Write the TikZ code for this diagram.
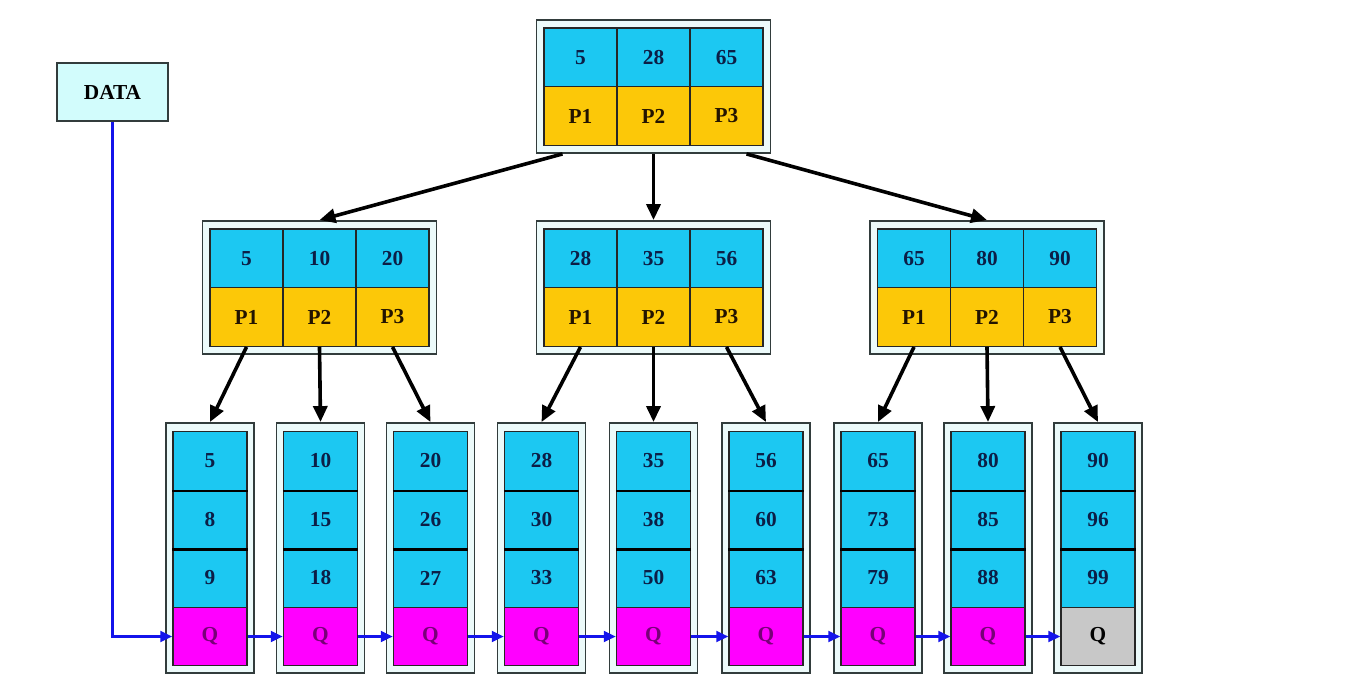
\documentclass[tikz,border=0pt]{standalone}
\usepackage{fontspec}
\setmainfont{Liberation Serif}
\usetikzlibrary{arrows.meta,calc}
\definecolor{cellblue}{RGB}{28,200,242}
\definecolor{cellyellow}{RGB}{252,200,8}
\definecolor{cellmag}{RGB}{255,0,255}
\definecolor{cellgray}{RGB}{200,200,200}
\definecolor{framefill}{RGB}{236,250,250}
\definecolor{framedraw}{RGB}{50,60,60}
\definecolor{numtext}{RGB}{12,30,70}
\definecolor{ptext}{RGB}{35,20,0}
\definecolor{qtext}{RGB}{120,0,120}
\definecolor{datafill}{RGB}{210,252,252}
\definecolor{linkblue}{RGB}{20,20,235}
\newcommand{\treenode}[6]{%
  \node[frame,minimum width=175.5pt,minimum height=99.75pt] (#1) at (#2,#3) {};
  \node[key] (#1-k1) at (#2-73,#3-29) {#4};
  \node[key] (#1-k2) at (#2,#3-29) {#5};
  \node[key] (#1-k3) at (#2+73,#3-29) {#6};
  \node[ptr] (#1-p1) at (#2-73,#3+29.5) {P1};
  \node[ptr] (#1-p2) at (#2,#3+29.5) {P2};
  \node[ptr] (#1-p3) at (#2+73,#3+29.5) {P3};
}
\newcommand{\leafnode}[6]{%
  \node[frame,minimum width=66pt,minimum height=187.5pt] (#1) at (#2,548) {};
  \node[lkey] (#1-a) at (#2,461) {#3};
  \node[lkey] (#1-b) at (#2,519.5) {#4};
  \node[lkey] (#1-c) at (#2,578) {#5};
  \node[#6] (#1-q) at (#2,636.5) {Q};
  \draw[line width=2pt] (#1-a.south west) -- (#1-a.south east);
  \draw[line width=2pt] (#1-b.south west) -- (#1-b.south east);
}
\begin{document}
\begin{tikzpicture}[x=0.75pt,y=-0.75pt,
  frame/.style={draw=framedraw,fill=framefill,line width=1.4pt,inner sep=0pt},
  cell/.style={draw=black!85,line width=1pt,inner sep=0pt,
    font=\bfseries\fontsize{16}{16}\selectfont,minimum width=54.75pt,minimum height=44pt},
  key/.style={cell,fill=cellblue,text=numtext},
  ptr/.style={cell,fill=cellyellow,text=ptext},
  lkey/.style={cell,fill=cellblue,text=numtext,minimum width=55.5pt,minimum height=43.875pt},
  qmag/.style={lkey,fill=cellmag,text=qtext},
  qgray/.style={lkey,fill=cellgray,text=black},
  treearrow/.style={draw=black,line width=2.7pt,-{Triangle[length=12pt,width=10.5pt]}},
  bluelink/.style={draw=linkblue,line width=2.6pt,-{Triangle[length=9pt,width=8pt]}},
  databox/.style={draw=framedraw,fill=datafill,line width=1.2pt,inner sep=0pt,
    minimum width=83.25pt,minimum height=43.5pt,font=\bfseries\fontsize{16}{16}\selectfont}
]
\useasboundingbox (0,0) rectangle (1350,698);
\fill[white] (0,0) rectangle (1350,698);

\node[databox] (data) at (112.5,92) {DATA};

\treenode{root}{653.5}{86.5}{5}{28}{65}
\treenode{ma}{319.5}{287.5}{5}{10}{20}
\treenode{mb}{653.5}{287.5}{28}{35}{56}
\treenode{mc}{987}{287.5}{65}{80}{90}

\leafnode{l1}{210}{5}{8}{9}{qmag}
\leafnode{l2}{320.5}{10}{15}{18}{qmag}
\leafnode{l3}{430.5}{20}{26}{27}{qmag}
\leafnode{l4}{541.5}{28}{30}{33}{qmag}
\leafnode{l5}{653.5}{35}{38}{50}{qmag}
\leafnode{l6}{766}{56}{60}{63}{qmag}
\leafnode{l7}{878}{65}{73}{79}{qmag}
\leafnode{l8}{988}{80}{85}{88}{qmag}
\leafnode{l9}{1098}{90}{96}{99}{qgray}

% root to middle level
\draw[treearrow] ($(root.south)+(-91,0)$) -- (ma.north);
\draw[treearrow] (root.south) -- (mb.north);
\draw[treearrow] ($(root.south)+(93,0)$) -- (mc.north);

% middle level to leaves
\draw[treearrow] (ma-p1.south) -- (l1.north);
\draw[treearrow] (ma-p2.south) -- (l2.north);
\draw[treearrow] (ma-p3.south) -- (l3.north);
\draw[treearrow] (mb-p1.south) -- (l4.north);
\draw[treearrow] (mb-p2.south) -- (l5.north);
\draw[treearrow] (mb-p3.south) -- (l6.north);
\draw[treearrow] (mc-p1.south) -- (l7.north);
\draw[treearrow] (mc-p2.south) -- (l8.north);
\draw[treearrow] (mc-p3.south) -- (l9.north);

% leaf chain
\draw[bluelink] (data.south) |- (l1-q.west);
\draw[bluelink] (l1-q.east) -- (l2-q.west);
\draw[bluelink] (l2-q.east) -- (l3-q.west);
\draw[bluelink] (l3-q.east) -- (l4-q.west);
\draw[bluelink] (l4-q.east) -- (l5-q.west);
\draw[bluelink] (l5-q.east) -- (l6-q.west);
\draw[bluelink] (l6-q.east) -- (l7-q.west);
\draw[bluelink] (l7-q.east) -- (l8-q.west);
\draw[bluelink] (l8-q.east) -- (l9-q.west);
\end{tikzpicture}
\end{document}
